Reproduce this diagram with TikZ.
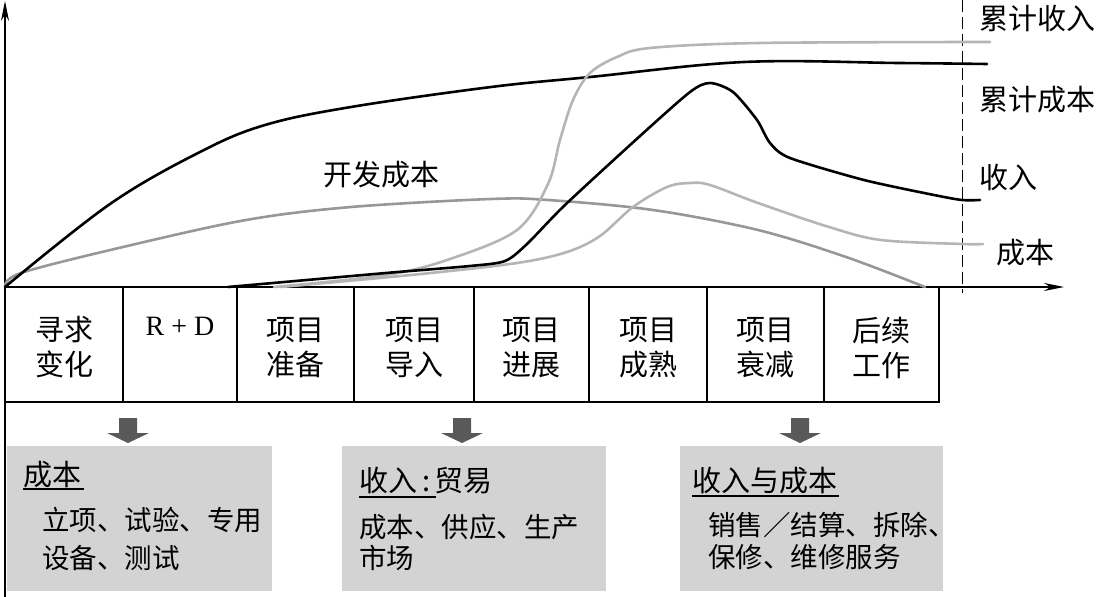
\documentclass[tikz,border=0pt]{standalone}
\usepackage{fontspec}
\setmainfont{Noto Sans CJK SC}
\newfontfamily\latinserif{Liberation Serif}
\usetikzlibrary{arrows.meta}
\definecolor{devgray}{HTML}{979797}
\definecolor{lightcurve}{HTML}{B5B5B5}
\definecolor{boxgray}{HTML}{D3D3D3}
\definecolor{arrowgray}{HTML}{595959}
\begin{document}
\begin{tikzpicture}[x=1pt,y=-1pt,
  axis/.style={line width=1.1pt,-{Stealth[length=20pt,width=8pt]}},
  phase/.style={draw,line width=1.2pt,minimum height=115pt,inner sep=0pt},
  phasetext/.style={inner sep=0pt,align=center,font=\fontsize{29}{35}\selectfont},
  blackcurve/.style={line width=2.6pt,black,line cap=round,line join=round},
  devcurve/.style={line width=2.6pt,devgray,line cap=round,line join=round},
  lightc/.style={line width=2.6pt,lightcurve,line cap=round,line join=round},
  infobox/.style={fill=boxgray,inner sep=0pt,minimum height=145pt},
  hdr/.style={anchor=base west,inner sep=0pt,font=\fontsize{29}{35}\selectfont},
  body/.style={anchor=base west,inner sep=0pt,font=\fontsize{27.5}{35}\selectfont},
  rlabel/.style={inner sep=0pt,font=\fontsize{29}{35}\selectfont},
  uline/.style={line width=1.3pt},
  blockarrow/.pic={\fill[arrowgray] (-9,0) -- (9,0) -- (9,15) -- (21,15) -- (0,25) -- (-21,15) -- (-9,15) -- cycle;}
]
\useasboundingbox (0,0) rectangle (1098,597);

% axes
\coordinate (o) at (5,287);
\coordinate (xend) at (1064,287);
\coordinate (ytop) at (5,1);
\coordinate (ybot) at (5,597);
\draw[axis] (o) -- (xend);
\draw[axis] (ybot) -- (ytop);

% dashed divider
\coordinate (dtop) at (962,0);
\coordinate (dbot) at (962,293);
\draw[line width=1pt,dash pattern=on 12pt off 5pt] (dtop) -- (dbot);

% phase boxes
\node[phase,minimum width=118pt] (p1) at (64,344.5) {};
\node[phase,minimum width=114pt] (p2) at (180,344.5) {};
\node[phase,minimum width=117pt] (p3) at (295.5,344.5) {};
\node[phase,minimum width=120pt] (p4) at (414,344.5) {};
\node[phase,minimum width=115pt] (p5) at (531.5,344.5) {};
\node[phase,minimum width=118pt] (p6) at (648,344.5) {};
\node[phase,minimum width=117pt] (p7) at (765.5,344.5) {};
\node[phase,minimum width=115pt] (p8) at (881.5,344.5) {};
\node[phasetext] (t1) at (64,347.5) {寻求\\变化};
\node[phasetext,font=\fontsize{28}{35}\latinserif] (t2) at (180,326) {R + D};
\node[phasetext] (t3) at (295.5,347.5) {项目\\准备};
\node[phasetext] (t4) at (414,347.5) {项目\\导入};
\node[phasetext] (t5) at (531.5,347.5) {项目\\进展};
\node[phasetext] (t6) at (648,347.5) {项目\\成熟};
\node[phasetext] (t7) at (765.5,347.5) {项目\\衰减};
\node[phasetext] (t8) at (881.5,347.5) {后续\\工作};

% curves
% development cost
\draw[devcurve] plot[smooth,tension=0.55] coordinates {(5,287) (21,273) (123,247) (246,220) (351,207) (491,199) (548,200) (653,210) (758,230) (846,257) (925,287)};
% cumulative cost
\draw[blackcurve] plot[smooth,tension=0.6] coordinates {(5,287) (110,204) (200,152) (265,125) (351,107) (491,87) (590,77) (744,62) (899,63) (987,64)};
% cumulative revenue
\draw[lightc] plot[smooth,tension=0.55] coordinates {(274,287) (386,275) (450,259) (517,230) (548,184) (560,140) (573,100) (590,73) (617,57) (650,48) (758,43) (990,42)};
% cost
\draw[lightc] plot[smooth,tension=0.55] coordinates {(281,287) (421,274) (517,263) (567,252) (600,236) (633,207) (667,187) (690,183) (710,185) (758,203) (829,227) (881,240) (962,244) (983,244)};
% revenue
\draw[blackcurve] plot[smooth,tension=0.45] coordinates {(228,287) (386,273) (470,266) (505,261) (527,244) (565,205) (640,136) (690,92) (710,83) (733,92) (757,120) (770,143) (790,158) (864,180) (934,195) (962,200) (980,200)};

% curve labels
\node[rlabel] (ldev) at (381,175) {开发成本};
\node[rlabel] (lcr) at (1037,18) {累计收入};
\node[rlabel] (lcc) at (1037,100) {累计成本};
\node[rlabel] (lrev) at (1008,177) {收入};
\node[rlabel] (lcost) at (1025,253) {成本};

% info boxes
\node[infobox,minimum width=265pt] (b1) at (139.5,518.5) {};
\node[infobox,minimum width=264pt] (b2) at (474,518.5) {};
\node[infobox,minimum width=263pt] (b3) at (811.5,518.5) {};

\pic at (128,418) {blockarrow};
\pic at (462,418) {blockarrow};
\pic at (800,418) {blockarrow};

\node[hdr] (h1) at (23,485) {成本};
\draw[uline] ([yshift=-4pt]h1.base west) -- ([yshift=-4pt,xshift=3pt]h1.base east);
\node[body] (t1a) at (42,530) {立项、试验、专用};
\node[body] (t1b) at (42,568) {设备、测试};

\node[hdr] (h2) at (359,491) {收入\,:\,贸易};
\draw[uline] ([yshift=-6pt]h2.base west) -- ++(77,0);
\node[body] (t2a) at (359,537) {成本、供应、生产};
\node[body] (t2b) at (359,568) {市场};

\node[hdr] (h3) at (692,491) {收入与成本};
\draw[uline] ([yshift=-5pt]h3.base west) -- ([yshift=-5pt,xshift=2pt]h3.base east);
\node[body] (t3a) at (708,535) {销售／结算、拆除、};
\node[body] (t3b) at (708,567) {保修、维修服务};
\end{tikzpicture}
\end{document}
